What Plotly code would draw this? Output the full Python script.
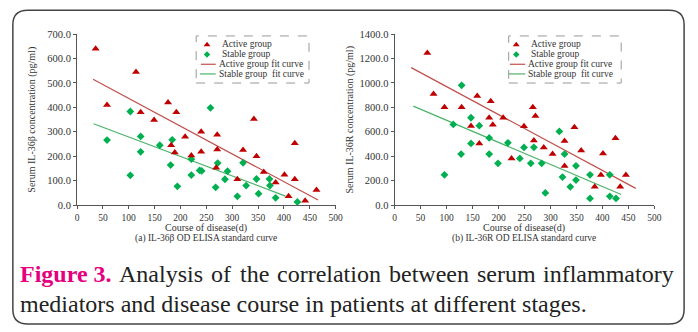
import plotly.graph_objects as go

W, H = 698, 332

# ---------------- data ----------------
x_ticks = [0, 50, 100, 150, 200, 250, 300, 350, 400, 450, 500]
ya_ticks = [0, 100, 200, 300, 400, 500, 600, 700]
yb_ticks = [0, 200, 400, 600, 800, 1000, 1200, 1400]

a_active_x = [36, 58, 114, 123, 149, 176, 192, 209, 240, 182, 189, 221, 240, 271, 342,
              271, 269, 321, 347, 310, 361, 384, 401, 421, 421, 409, 441, 463]
a_active_y = [640, 410, 545, 380, 348, 420, 380, 280, 300, 245, 215, 203, 218, 288, 352,
              228, 153, 226, 200, 106, 136, 93, 124, 253, 106, 36, 18, 62]
a_stable_x = [58, 103, 103, 123, 123, 160, 184, 181, 194, 221, 221, 237, 241, 258, 272,
              291, 286, 268, 310, 327, 321, 347, 351, 372, 373, 384, 426]
a_stable_y = [266, 383, 122, 281, 218, 245, 267, 164, 77, 188, 123, 142, 140, 398, 172,
              139, 106, 73, 36, 80, 173, 107, 47, 107, 80, 30, 13]
a_active_fit_x = [31, 466]
a_active_fit_y = [515, 21]
a_stable_fit_x = [32, 403]
a_stable_fit_y = [333, 37]

b_active_x = [63, 75, 96, 129, 159, 185, 182, 189, 147, 163, 209, 249, 225, 266, 271,
              268, 287, 304, 327, 327, 346, 359, 385, 397, 401, 425, 434, 445]
b_active_y = [1245, 910, 800, 800, 893, 850, 714, 658, 648, 505, 714, 645, 382, 800, 730,
              528, 472, 418, 525, 320, 637, 447, 150, 247, 423, 547, 150, 247]
b_stable_x = [129, 113, 147, 163, 147, 96, 128, 182, 182, 199, 218, 241, 249, 268, 262,
              283, 290, 317, 327, 323, 338, 349, 349, 376, 376, 414, 414, 426]
b_stable_y = [980, 660, 715, 650, 505, 248, 418, 550, 418, 342, 510, 382, 472, 473, 342,
              342, 100, 603, 418, 230, 150, 322, 205, 248, 55, 248, 72, 55]
b_active_fit_x = [32, 464]
b_active_fit_y = [1125, 137]
b_stable_fit_x = [36, 436]
b_stable_fit_y = [810, 87]

legend_labels = ["Active group", "Stable group", "Active group fit curve", "Stable group  fit curve"]
a_ylabel = "Serum IL-36β concentration (pg/ml)"
b_ylabel = "Serum IL-36R concentration (pg/ml)"
x_label = "Course of disease(d)"
a_sub = "(a) IL-36β OD ELISA standard curve"
b_sub = "(b) IL-36R OD ELISA standard curve"
caption_label = "Figure 3."
caption_line1 = ["Analysis", "of", "the", "correlation", "between", "serum", "inflammatory"]
caption_line2 = "mediators and disease course in patients at different stages."

# ---------------- style ----------------
RED = "#c00000"
GREEN = "#00b050"
RED_LINE = "#c0504d"
GREEN_LINE = "#4db36a"
AX = "#555555"
TXT = "#333333"
SERIF = "Liberation Serif"
MAGENTA = "#e5007e"


def px(x):
    return x / W


def py(y):
    return 1 - y / H


fig = go.Figure()


def add_panel(xa, ya, ax_x, ax_y, sx_x, sx_y, fax, fay, fsx, fsy):
    fig.add_trace(go.Scatter(x=fax, y=fay, mode="lines", line=dict(color=RED_LINE, width=1.2),
                             xaxis=xa, yaxis=ya, showlegend=False, hoverinfo="skip"))
    fig.add_trace(go.Scatter(x=fsx, y=fsy, mode="lines", line=dict(color=GREEN_LINE, width=1.2),
                             xaxis=xa, yaxis=ya, showlegend=False, hoverinfo="skip"))
    fig.add_trace(go.Scatter(x=sx_x, y=sx_y, mode="markers",
                             marker=dict(symbol="diamond", size=6, color=GREEN),
                             xaxis=xa, yaxis=ya, showlegend=False, cliponaxis=False))
    fig.add_trace(go.Scatter(x=ax_x, y=ax_y, mode="markers",
                             marker=dict(symbol="triangle-up", size=7, color=RED),
                             xaxis=xa, yaxis=ya, showlegend=False, cliponaxis=False))


add_panel("x", "y", a_active_x, a_active_y, a_stable_x, a_stable_y,
          a_active_fit_x, a_active_fit_y, a_stable_fit_x, a_stable_fit_y)
add_panel("x2", "y2", b_active_x, b_active_y, b_stable_x, b_stable_y,
          b_active_fit_x, b_active_fit_y, b_stable_fit_x, b_stable_fit_y)

# legend sample markers drawn on a pixel-space overlay axis
for lx in (207.7, 521):
    fig.add_trace(go.Scatter(x=[lx], y=[41], mode="markers",
                             marker=dict(symbol="triangle-up", size=6, color=RED),
                             xaxis="x3", yaxis="y3", showlegend=False, hoverinfo="skip"))
    fig.add_trace(go.Scatter(x=[lx], y=[51.3], mode="markers",
                             marker=dict(symbol="diamond", size=5, color=GREEN),
                             xaxis="x3", yaxis="y3", showlegend=False, hoverinfo="skip"))

axis_common = dict(showline=True, linecolor=AX, linewidth=1, ticks="outside", ticklen=3,
                   tickcolor=AX, tickwidth=1, showgrid=False, zeroline=False)
xfont = dict(tickfont=dict(family=SERIF, size=9.5, color=TXT))
yfont = dict(tickfont=dict(family=SERIF, size=10.5, color=TXT))

ybot, ytop = py(207), py(30)
fig.update_layout(
    width=W, height=H, autosize=False,
    margin=dict(l=0, r=0, t=0, b=0, pad=0),
    paper_bgcolor="white", plot_bgcolor="rgba(0,0,0,0)",
    showlegend=False,
    font=dict(family=SERIF),
    xaxis=dict(domain=[px(76), px(338)], range=[0, 500], tickvals=x_ticks, anchor="y",
               **axis_common, **xfont),
    yaxis=dict(domain=[ybot, ytop], range=[0, 700], tickvals=ya_ticks, tickformat=".1f", anchor="x",
               **axis_common, **yfont),
    xaxis2=dict(domain=[px(397.7), px(661)], range=[0, 500], tickvals=x_ticks, anchor="y2",
                **axis_common, **xfont),
    yaxis2=dict(domain=[ybot, ytop], range=[0, 1400], tickvals=yb_ticks, tickformat=".1f", anchor="x2",
                **axis_common, **yfont),
    xaxis3=dict(domain=[0, 1], range=[0, W], visible=False, anchor="y3"),
    yaxis3=dict(domain=[0, 1], range=[H, 0], visible=False, anchor="x3"),
)

anns = []


def text(x, y, s, size=10, xanchor="center", angle=0, color=TXT, bold=False):
    anns.append(dict(x=px(x), y=py(y), xref="paper", yref="paper",
                     text=f"<b>{s}</b>" if bold else s, showarrow=False,
                     xanchor=xanchor, yanchor="middle", textangle=angle,
                     font=dict(family=SERIF, size=size, color=color)))


# axis titles and subtitles
text(30, 119, a_ylabel, angle=-90)
text(353, 119, b_ylabel, angle=-90)
text(207, 230.5, x_label)
text(529, 230.5, x_label)
text(207, 241.5, a_sub, size=9.5)
text(529, 241.5, b_sub, size=9.5)

# legends (text + line samples + dashed boxes)
shapes = []
LEG = 9.5
rows = [40.3, 51.0, 61.3, 71.3]
for (bx0, bx1, tx1, tx2, lx0, lx1) in ((196.7, 311, 221, 218, 201.5, 216.5),
                                        (513.3, 627.3, 534.3, 531, 514.5, 530)):
    shapes.append(dict(type="rect", xref="paper", yref="paper", x0=px(bx0), x1=px(bx1),
                       y0=py(80.7), y1=py(32), line=dict(color="#999999", width=1, dash="dash")))
    text(tx1, rows[0], legend_labels[0], size=LEG, xanchor="left")
    text(tx1, rows[1], legend_labels[1], size=LEG, xanchor="left")
    text(tx2, rows[2], legend_labels[2], size=LEG, xanchor="left")
    text(tx2, rows[3], legend_labels[3], size=LEG, xanchor="left")
    shapes.append(dict(type="line", xref="paper", yref="paper", x0=px(lx0), x1=px(lx1),
                       y0=py(rows[2]), y1=py(rows[2]), line=dict(color=RED_LINE, width=1.2)))
    shapes.append(dict(type="line", xref="paper", yref="paper", x0=px(lx0 - 1), x1=px(lx1),
                       y0=py(rows[3]), y1=py(rows[3]), line=dict(color=GREEN_LINE, width=1.2)))

# rounded outer border
x0, x1, y0, y1, r = 11, 691, 5.5, 330, 15
path = (f"M {px(x0 + r)},{py(y0)} L {px(x1 - r)},{py(y0)} Q {px(x1)},{py(y0)} {px(x1)},{py(y0 + r)} "
        f"L {px(x1)},{py(y1 - r)} Q {px(x1)},{py(y1)} {px(x1 - r)},{py(y1)} "
        f"L {px(x0 + r)},{py(y1)} Q {px(x0)},{py(y1)} {px(x0)},{py(y1 - r)} "
        f"L {px(x0)},{py(y0 + r)} Q {px(x0)},{py(y0)} {px(x0 + r)},{py(y0)} Z")
shapes.append(dict(type="path", xref="paper", yref="paper", path=path,
                   line=dict(color="#444444", width=1.5)))

# caption: line 1 justified word by word
CAP = 24
CAPC = "#222222"
word_left = [117, 210, 239, 277, 390, 479]
text(16, 278, caption_label, size=CAP, xanchor="left", color=MAGENTA, bold=True)
for w, xw in zip(caption_line1[:-1], word_left):
    text(xw, 278, w, size=CAP, xanchor="left", color=CAPC)
text(683, 278, caption_line1[-1], size=CAP, xanchor="right", color=CAPC)
text(16, 309.5, caption_line2, size=CAP, xanchor="left", color=CAPC)

fig.update_layout(annotations=anns, shapes=shapes)
fig.write_html("out.html")
